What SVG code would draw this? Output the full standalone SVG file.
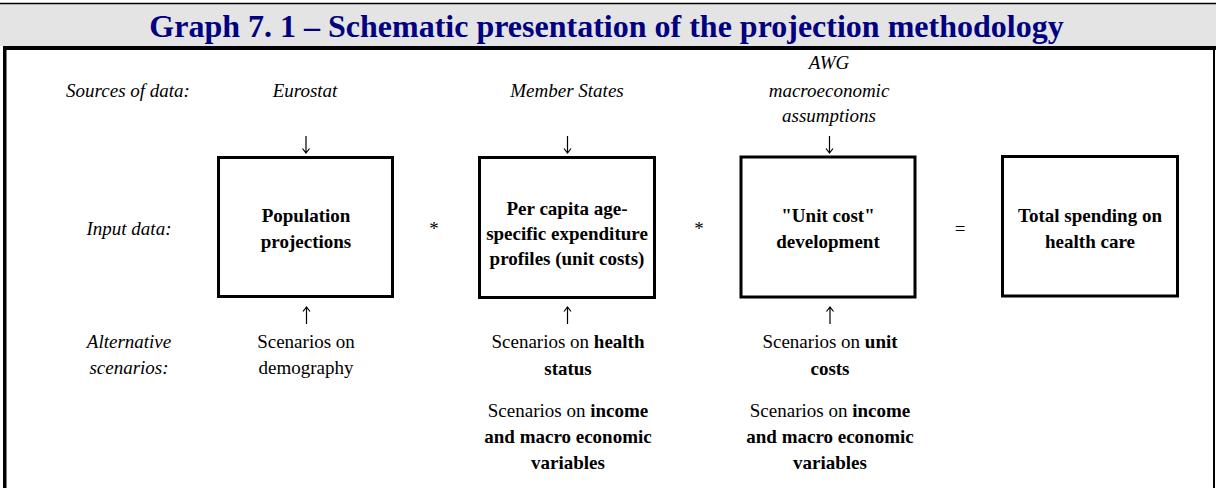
<svg xmlns="http://www.w3.org/2000/svg" width="1216" height="488" viewBox="0 0 1216 488">
<style>
text{font-family:"Liberation Serif","Times New Roman",serif;font-size:19px;fill:#000;text-anchor:middle}
.i{font-style:italic}
.b{font-weight:bold}
.title{font-size:32px;font-weight:bold;fill:#000080}
.box{fill:#fff;stroke:#000;stroke-width:3}
.arr{fill:none;stroke:#000;stroke-width:1.2}
</style>
<g id="frame">
<rect x="0" y="3" width="1216" height="43" fill="#e4e4e4"/>
<line x1="0" y1="3.5" x2="1216" y2="3.5" stroke="#000" stroke-width="1.5"/>
<rect x="3" y="46" width="1213" height="4" fill="#000"/>
<rect x="3" y="46" width="3.5" height="442" fill="#000"/>
<rect x="1213" y="46" width="2" height="442" fill="#000"/>
<text class="title" x="606.5" y="37">Graph 7. 1 – Schematic presentation of the projection methodology</text>
</g>
<g id="row-labels">
<text class="i" x="128" y="96.5">Sources of data:</text>
<text class="i" x="129" y="235">Input data:</text>
<text class="i" x="129" y="347.5">Alternative</text>
<text class="i" x="129" y="374">scenarios:</text>
</g>
<g id="sources">
<text class="i" x="305" y="96.5">Eurostat</text>
<text class="i" x="567" y="96.5">Member States</text>
<text class="i" x="829" y="69">AWG</text>
<text class="i" x="829" y="96.5">macroeconomic</text>
<text class="i" x="829" y="122">assumptions</text>
</g>
<g id="node-population">
<rect class="box" x="218.5" y="157.5" width="174" height="139"/>
<text class="b" x="306" y="222">Population</text>
<text class="b" x="306" y="247.5">projections</text>
</g>
<g id="node-profiles">
<rect class="box" x="479.5" y="157.5" width="175" height="140"/>
<text class="b" x="567" y="215">Per capita age-</text>
<text class="b" x="567" y="240">specific expenditure</text>
<text class="b" x="567" y="264.5">profiles (unit costs)</text>
</g>
<g id="node-unitcost">
<rect class="box" x="741" y="157" width="174" height="140"/>
<text class="b" x="828" y="222">"Unit cost"</text>
<text class="b" x="828" y="247.5">development</text>
</g>
<g id="node-total">
<rect class="box" x="1002.5" y="156.5" width="175" height="139.5"/>
<text class="b" x="1090" y="222">Total spending on</text>
<text class="b" x="1090" y="247.5">health care</text>
</g>
<g id="operators">
<text x="434" y="235">*</text>
<text x="699" y="235">*</text>
<text x="960" y="235">=</text>
</g>
<g id="scenarios">
<text x="306" y="347.5">Scenarios on</text>
<text x="306" y="374">demography</text>
<text x="568" y="348"><tspan>Scenarios on </tspan><tspan class="b">health</tspan></text>
<text class="b" x="568" y="375">status</text>
<text x="568" y="417"><tspan>Scenarios on </tspan><tspan class="b">income</tspan></text>
<text class="b" x="568" y="443">and macro economic</text>
<text class="b" x="568" y="468.5">variables</text>
<text x="830" y="348"><tspan>Scenarios on </tspan><tspan class="b">unit</tspan></text>
<text class="b" x="830" y="375">costs</text>
<text x="830" y="417"><tspan>Scenarios on </tspan><tspan class="b">income</tspan></text>
<text class="b" x="830" y="443">and macro economic</text>
<text class="b" x="830" y="468.5">variables</text>
</g>
<g id="connectors">
<path class="arr" d="M306 136V153M302.5 148.5L306 153L309.5 148.5"/>
<path class="arr" d="M567.5 136V153M564 148.5L567.5 153L571 148.5"/>
<path class="arr" d="M829.5 136V153M826 148.5L829.5 153L833 148.5"/>
<path class="arr" d="M306.5 324V307M303 311.5L306.5 307L310 311.5"/>
<path class="arr" d="M567.5 324V307M564 311.5L567.5 307L571 311.5"/>
<path class="arr" d="M830 324V307M826.5 311.5L830 307L833.5 311.5"/>
</g>
</svg>
